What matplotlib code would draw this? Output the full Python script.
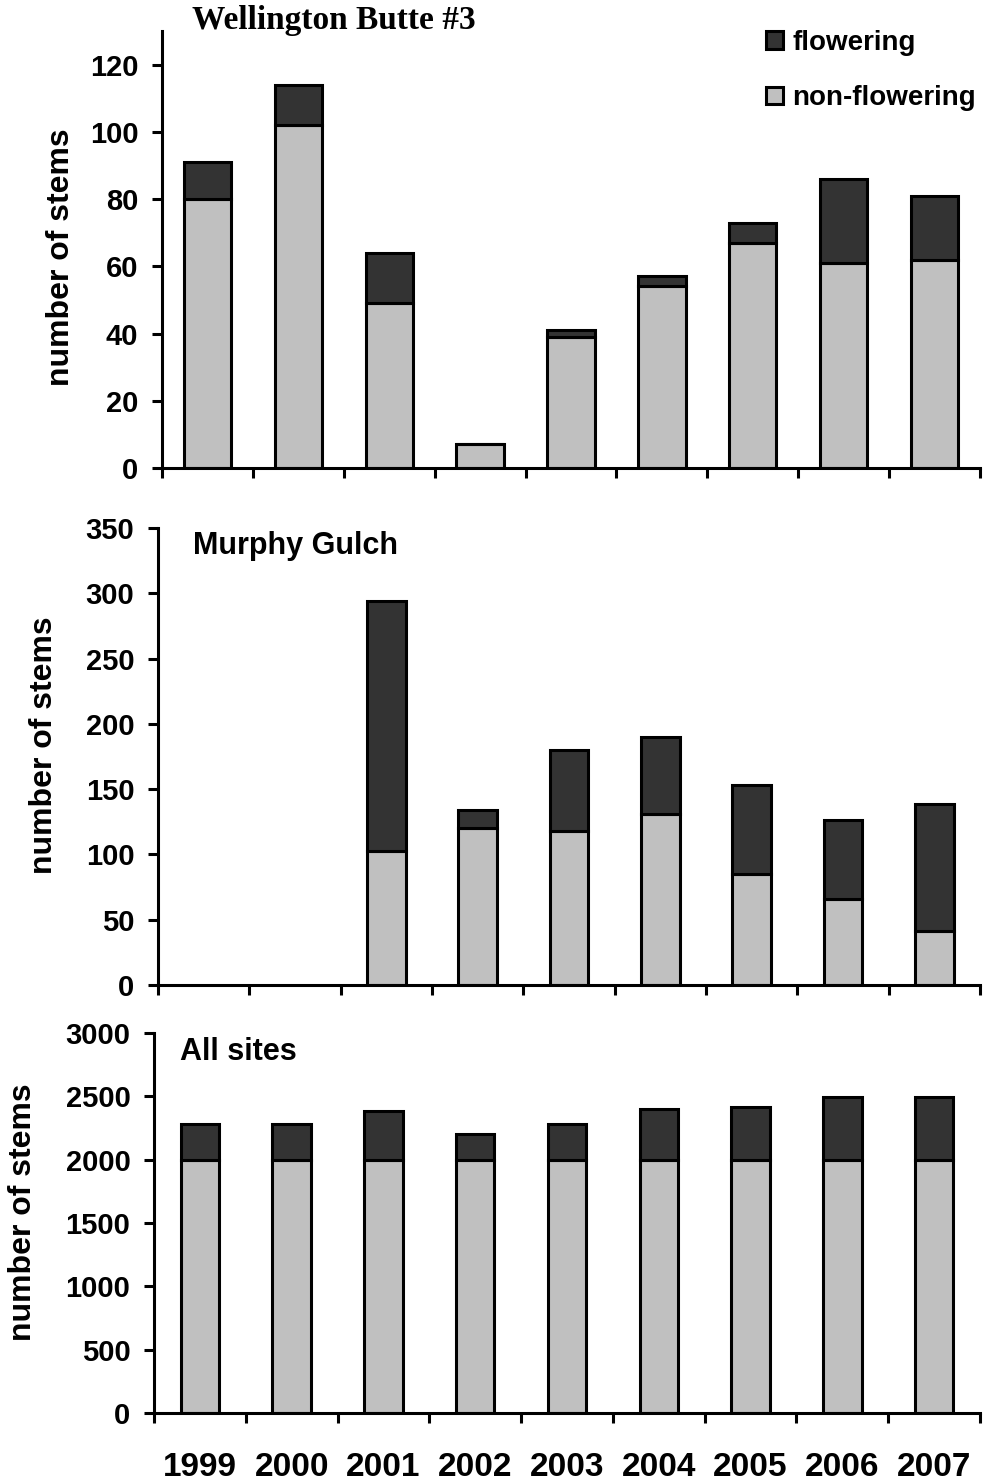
import numpy as np
import matplotlib.pyplot as plt
from matplotlib.patches import Patch
from matplotlib.ticker import FixedLocator

years = ['1999', '2000', '2001', '2002', '2003', '2004', '2005', '2006', '2007']

# Wellington Butte #3
wb_non = [80, 102, 49, 7, 39, 54, 67, 61, 62]
wb_flow = [11, 12, 15, 0, 2, 3, 6, 25, 19]

# Murphy Gulch (no data 1999-2000)
mg_non = [np.nan, np.nan, 103, 120, 118, 131, 85, 66, 41]
mg_flow = [np.nan, np.nan, 191, 14, 62, 59, 68, 60, 98]

# All sites
all_non = [2000, 2000, 2000, 2000, 2000, 2000, 2000, 2000, 2000]
all_flow = [280, 280, 385, 200, 280, 400, 415, 495, 495]

C_NON = '#c0c0c0'
C_FLOW = '#333333'
LW = 2.2

plt.rcParams['font.family'] = ['Liberation Sans', 'DejaVu Sans']
plt.rcParams['font.weight'] = 'bold'

W, H = 984, 1481
fig = plt.figure(figsize=(W / 100, H / 100), dpi=100)


def px_axes(left, right, bottom, top):
    return fig.add_axes([left / W, 1 - bottom / H, (right - left) / W, (bottom - top) / H])


panels = [
    dict(box=(162, 980, 468, 31), non=wb_non, flow=wb_flow, ylim=130, step=20, width=0.52,
         labx=-0.105, laby=0.483),
    dict(box=(158, 980, 985, 528), non=mg_non, flow=mg_flow, ylim=350, step=50, width=0.42,
         labx=-0.12, laby=0.525),
    dict(box=(154, 980, 1413, 1033), non=all_non, flow=all_flow, ylim=3000, step=500, width=0.42,
         labx=-0.14, laby=0.529),
]

x = np.arange(len(years))
axes = []
for i, p in enumerate(panels):
    ax = px_axes(*p['box'])
    axes.append(ax)
    non = np.array(p['non'], dtype=float)
    flow = np.array(p['flow'], dtype=float)
    ok = ~np.isnan(non)
    ax.bar(x[ok], non[ok], width=p['width'], color=C_NON, edgecolor='black', linewidth=LW,
           label='non-flowering', zorder=2)
    ax.bar(x[ok], flow[ok], bottom=non[ok], width=p['width'], color=C_FLOW, edgecolor='black',
           linewidth=LW, label='flowering', zorder=2)
    ax.set_xlim(-0.5, len(years) - 0.5)
    ax.set_ylim(0, p['ylim'])
    ax.set_yticks(np.arange(0, p['ylim'] + 1, p['step']))
    ax.tick_params(axis='y', direction='out', length=7, width=LW, labelsize=21, pad=10)
    ax.set_xticks(x)
    ax.xaxis.set_minor_locator(FixedLocator(np.arange(-0.5, len(years), 1.0)))
    ax.tick_params(axis='x', which='minor', direction='out', length=7, width=LW)
    ax.tick_params(axis='x', which='major', length=0, labelsize=24, pad=28)
    if i < 2:
        ax.set_xticklabels([])
    else:
        ax.set_xticklabels(years)
    for s in ['top', 'right']:
        ax.spines[s].set_visible(False)
    for s in ['left', 'bottom']:
        ax.spines[s].set_linewidth(LW)
    ax.set_ylabel('number of stems', fontsize=23, fontweight='bold')
    ax.yaxis.set_label_coords(p['labx'], p['laby'])
    ax.set_facecolor('none')

# panel titles
fig.text(192 / W, 1 - 20 / H, 'Wellington Butte #3', fontsize=24, fontweight='bold',
         family=['Liberation Serif', 'DejaVu Serif'], ha='left', va='center')
fig.text(193 / W, 1 - 546 / H, 'Murphy Gulch', fontsize=22, fontweight='bold', ha='left', va='center')
fig.text(180 / W, 1 - 1052 / H, 'All sites', fontsize=22, fontweight='bold', ha='left', va='center')

handles = [Patch(facecolor=C_FLOW, edgecolor='black', linewidth=LW, label='flowering'),
           Patch(facecolor=C_NON, edgecolor='black', linewidth=LW, label='non-flowering')]
fig.legend(handles=handles, loc='upper left', bbox_to_anchor=(766 / W, 1 - 30 / H), frameon=False,
           fontsize=20, handlelength=0.6, handleheight=0.6, handletextpad=0.35, labelspacing=1.05,
           borderpad=0, borderaxespad=0)

fig.savefig('out.png', dpi=100)
